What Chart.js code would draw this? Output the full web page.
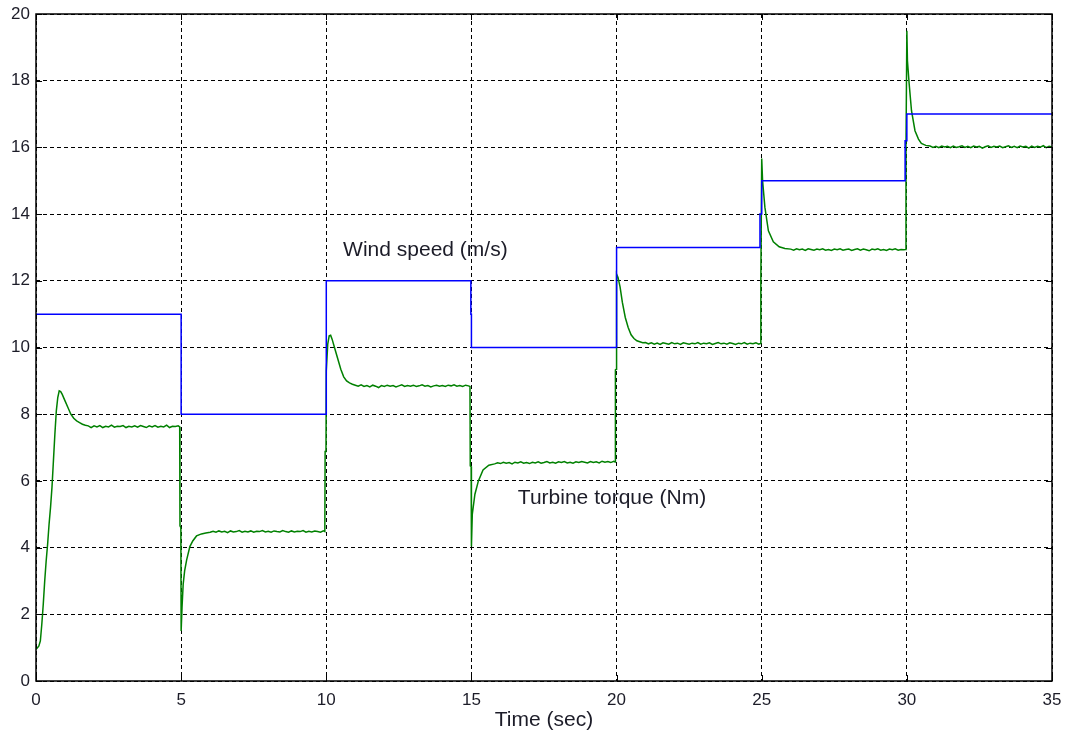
<!DOCTYPE html>
<html>
<head>
<meta charset="utf-8">
<script src="https://cdn.jsdelivr.net/npm/chart.js@4/dist/chart.umd.min.js"></script>
<style>
  body { margin: 0; background: #fff; }
  canvas { display: block; }
</style>
</head>
<body>
<canvas id="myChart" width="1067" height="740"></canvas>
<script>
// wind speed steps (m/s)
const windTime  = [0, 5, 5, 10, 10, 14.98, 14.98, 15, 15, 20, 20, 24.94, 24.94, 25, 25, 29.94, 29.94, 30, 30, 35];
const windSpeed = [11, 11, 8, 8, 12, 12, 11, 11, 10, 10, 13, 13, 14, 14, 15, 15, 16.2, 16.2, 17, 17];

// turbine torque (Nm), [time, value], one array per wind step
const torque0to5 = [[0,0.95],[0.05,1.0],[0.1,1.05],[0.15,1.2],[0.2,1.7],[0.25,2.3],[0.3,3.0],[0.35,3.6],[0.4,4.1],[0.45,4.7],[0.5,5.2],[0.55,5.8],[0.6,6.6],[0.65,7.4],[0.7,8.1],[0.75,8.5],[0.8,8.7],[0.85,8.68],[0.9,8.6],[1.0,8.4],[1.1,8.2],[1.2,8.0],[1.3,7.88],[1.4,7.8],[1.5,7.75],[1.6,7.7],[1.7,7.67],[1.8,7.65],[1.9,7.6],[2.0,7.65],[2.1,7.62],[2.2,7.66],[2.3,7.6],[2.4,7.64],[2.5,7.62],[2.6,7.67],[2.7,7.61],[2.8,7.64],[2.9,7.63],[3.0,7.66],[3.1,7.6],[3.2,7.64],[3.3,7.62],[3.4,7.65],[3.5,7.61],[3.6,7.66],[3.7,7.63],[3.8,7.6],[3.9,7.65],[4.0,7.62],[4.1,7.66],[4.2,7.61],[4.3,7.64],[4.4,7.62],[4.5,7.67],[4.6,7.6],[4.7,7.64],[4.8,7.63],[4.9,7.65],[4.95,7.62],[4.96,4.65],[4.99,4.6]];
const torque5to10 = [[5.0,1.5],[5.03,2.2],[5.07,2.9],[5.12,3.3],[5.19,3.63],[5.3,4.03],[5.4,4.2],[5.53,4.35],[5.7,4.41],[5.85,4.44],[6.0,4.46],[6.1,4.49],[6.2,4.46],[6.3,4.5],[6.4,4.47],[6.5,4.49],[6.6,4.45],[6.7,4.5],[6.8,4.47],[6.9,4.48],[7.0,4.51],[7.1,4.46],[7.2,4.49],[7.3,4.47],[7.4,4.5],[7.5,4.46],[7.6,4.49],[7.7,4.48],[7.8,4.51],[7.9,4.47],[8.0,4.49],[8.1,4.46],[8.2,4.5],[8.3,4.48],[8.4,4.47],[8.5,4.51],[8.6,4.48],[8.7,4.46],[8.8,4.5],[8.9,4.47],[9.0,4.49],[9.1,4.48],[9.2,4.51],[9.3,4.46],[9.4,4.49],[9.5,4.47],[9.6,4.5],[9.7,4.48],[9.8,4.46],[9.9,4.5],[9.95,4.48],[9.96,6.88],[9.99,6.9]];
const torque10to15 = [[10.0,9.3],[10.05,10.1],[10.1,10.35],[10.15,10.37],[10.2,10.25],[10.3,9.95],[10.4,9.65],[10.5,9.35],[10.6,9.12],[10.7,9.0],[10.8,8.94],[10.9,8.9],[11.0,8.87],[11.1,8.84],[11.2,8.88],[11.3,8.83],[11.4,8.86],[11.5,8.82],[11.6,8.87],[11.7,8.84],[11.8,8.8],[11.9,8.86],[12.0,8.83],[12.1,8.87],[12.2,8.84],[12.3,8.86],[12.4,8.82],[12.5,8.85],[12.6,8.88],[12.7,8.83],[12.8,8.86],[12.9,8.84],[13.0,8.87],[13.1,8.83],[13.2,8.85],[13.3,8.88],[13.4,8.84],[13.5,8.86],[13.6,8.82],[13.7,8.85],[13.8,8.87],[13.9,8.84],[14.0,8.86],[14.1,8.83],[14.2,8.87],[14.3,8.85],[14.4,8.88],[14.5,8.84],[14.6,8.86],[14.7,8.83],[14.8,8.87],[14.9,8.85],[14.95,8.83],[14.96,6.45],[14.99,6.43]];
const torque15to20 = [[15.0,4.03],[15.03,5.0],[15.12,5.6],[15.24,6.0],[15.4,6.33],[15.6,6.47],[15.8,6.51],[15.9,6.54],[16.0,6.52],[16.1,6.56],[16.2,6.53],[16.3,6.55],[16.4,6.51],[16.5,6.56],[16.6,6.54],[16.7,6.57],[16.8,6.53],[16.9,6.55],[17.0,6.52],[17.1,6.56],[17.2,6.54],[17.3,6.57],[17.4,6.53],[17.5,6.55],[17.6,6.58],[17.7,6.54],[17.8,6.56],[17.9,6.53],[18.0,6.57],[18.1,6.55],[18.2,6.58],[18.3,6.54],[18.4,6.56],[18.5,6.53],[18.6,6.57],[18.7,6.55],[18.8,6.58],[18.9,6.56],[19.0,6.54],[19.1,6.58],[19.2,6.55],[19.3,6.57],[19.4,6.54],[19.5,6.59],[19.6,6.56],[19.7,6.58],[19.8,6.55],[19.9,6.59],[19.95,6.57],[19.96,9.33],[19.99,9.35]];
const torque20to25 = [[20.0,12.2],[20.05,12.1],[20.12,11.82],[20.2,11.35],[20.3,10.9],[20.4,10.6],[20.5,10.38],[20.6,10.27],[20.7,10.2],[20.8,10.17],[20.9,10.14],[21.0,10.15],[21.1,10.11],[21.2,10.14],[21.3,10.1],[21.4,10.13],[21.5,10.09],[21.6,10.14],[21.7,10.12],[21.8,10.1],[21.9,10.15],[22.0,10.11],[22.1,10.13],[22.2,10.09],[22.3,10.14],[22.4,10.12],[22.5,10.1],[22.6,10.13],[22.7,10.11],[22.8,10.15],[22.9,10.1],[23.0,10.13],[23.1,10.11],[23.2,10.14],[23.3,10.09],[23.4,10.12],[23.5,10.15],[23.6,10.11],[23.7,10.13],[23.8,10.1],[23.9,10.14],[24.0,10.12],[24.1,10.09],[24.2,10.13],[24.3,10.11],[24.4,10.15],[24.5,10.1],[24.6,10.13],[24.7,10.11],[24.8,10.14],[24.9,10.1],[24.95,10.12],[24.97,12.0]];
const torque25to30 = [[25.0,15.67],[25.03,15.0],[25.11,14.2],[25.23,13.5],[25.4,13.17],[25.6,13.02],[25.8,12.97],[26.0,12.95],[26.1,12.92],[26.2,12.96],[26.3,12.93],[26.4,12.95],[26.5,12.91],[26.6,12.96],[26.7,12.94],[26.8,12.92],[26.9,12.95],[27.0,12.93],[27.1,12.96],[27.2,12.92],[27.3,12.94],[27.4,12.91],[27.5,12.95],[27.6,12.93],[27.7,12.96],[27.8,12.92],[27.9,12.94],[28.0,12.95],[28.1,12.91],[28.2,12.94],[28.3,12.96],[28.4,12.92],[28.5,12.95],[28.6,12.93],[28.7,12.9],[28.8,12.95],[28.9,12.93],[29.0,12.96],[29.1,12.92],[29.2,12.94],[29.3,12.91],[29.4,12.95],[29.5,12.93],[29.6,12.96],[29.7,12.92],[29.8,12.94],[29.9,12.93],[29.95,12.94],[29.97,16.0]];
const torque30to35 = [[30.0,19.5],[30.02,18.6],[30.08,17.9],[30.16,17.1],[30.28,16.5],[30.4,16.25],[30.5,16.12],[30.65,16.06],[30.8,16.04],[30.9,16.0],[31.0,16.03],[31.1,15.99],[31.2,16.04],[31.3,16.01],[31.4,16.03],[31.5,15.99],[31.6,16.04],[31.7,16.0],[31.8,16.02],[31.9,16.05],[32.0,16.0],[32.1,16.03],[32.2,15.99],[32.3,16.04],[32.4,16.01],[32.5,16.03],[32.6,15.98],[32.7,16.02],[32.8,16.05],[32.9,16.0],[33.0,16.03],[33.1,16.01],[33.2,16.04],[33.3,15.99],[33.4,16.02],[33.5,16.05],[33.6,16.0],[33.7,16.03],[33.8,15.99],[33.9,16.04],[34.0,16.01],[34.1,16.03],[34.2,15.98],[34.3,16.04],[34.4,16.0],[34.5,16.03],[34.6,16.01],[34.7,16.05],[34.8,15.99],[34.9,16.03],[35.0,16.01]];

const labelFont = '"Liberation Sans", Arial, sans-serif';
const textColor = '#1c1c28';

const windPoints = windTime.map((t, i) => ({ x: t, y: windSpeed[i] }));
const torquePoints = [torque0to5, torque5to10, torque10to15, torque15to20, torque20to25, torque25to30, torque30to35]
  .flat().map(([t, v]) => ({ x: t, y: v }));

// box round the plot, inward ticks on all four sides, and the two curve labels
const framePlugin = {
  id: 'frame',
  afterDraw(chart) {
    const { ctx, chartArea: a, scales: { x, y } } = chart;
    ctx.save();
    ctx.strokeStyle = '#000';
    ctx.lineWidth = 1;
    ctx.beginPath();
    x.ticks.forEach(t => {
      const px = Math.round(x.getPixelForValue(t.value)) + 0.5;
      ctx.moveTo(px, a.bottom); ctx.lineTo(px, a.bottom - 6);
      ctx.moveTo(px, a.top); ctx.lineTo(px, a.top + 6);
    });
    y.ticks.forEach(t => {
      const py = Math.round(y.getPixelForValue(t.value)) + 0.5;
      ctx.moveTo(a.left, py); ctx.lineTo(a.left + 6, py);
      ctx.moveTo(a.right, py); ctx.lineTo(a.right - 6, py);
    });
    ctx.stroke();
    ctx.lineWidth = 1.5;
    ctx.strokeRect(a.left, a.top, a.right - a.left, a.bottom - a.top);

    ctx.font = '21px ' + labelFont;
    ctx.fillStyle = textColor;
    ctx.textBaseline = 'middle';
    ctx.textAlign = 'left';
    ctx.fillText('Wind speed (m/s)', x.getPixelForValue(10.58), y.getPixelForValue(12.92));
    ctx.fillText('Turbine torque (Nm)', x.getPixelForValue(16.6), y.getPixelForValue(5.49));
    ctx.restore();
  }
};

new Chart(document.getElementById('myChart'), {
  type: 'line',
  data: {
    datasets: [
      {
        label: 'Wind speed (m/s)',
        data: windPoints,
        borderColor: '#0000ff',
        borderWidth: 1.5,
        pointRadius: 0,
        tension: 0,
      },
      {
        label: 'Turbine torque (Nm)',
        data: torquePoints,
        borderColor: '#008000',
        borderWidth: 1.5,
        pointRadius: 0,
        tension: 0,
      },
    ],
  },
  options: {
    responsive: false,
    animation: false,
    layout: { padding: { left: 0, top: 14, right: 15, bottom: 0 } },
    plugins: {
      legend: { display: false },
      tooltip: { enabled: false },
    },
    scales: {
      x: {
        type: 'linear',
        min: 0,
        max: 35,
        ticks: { stepSize: 5, padding: 9, color: textColor, font: { family: labelFont, size: 17 } },
        grid: { color: '#000', lineWidth: 1, drawTicks: false },
        border: { display: false, dash: [4, 3] },
        title: { display: true, text: 'Time (sec)', color: textColor, font: { family: labelFont, size: 21 }, padding: { top: 0, bottom: 7 } },
        afterFit(scale) {
          scale.height = 59;
          scale.paddingLeft = 0;
          scale.paddingRight = 0;
        },
      },
      y: {
        min: 0,
        max: 20,
        ticks: { stepSize: 2, padding: 6, color: textColor, font: { family: labelFont, size: 17 } },
        grid: { color: '#000', lineWidth: 1, drawTicks: false },
        border: { display: false, dash: [4, 3] },
        afterFit(scale) {
          scale.width = 36;
          scale.paddingTop = 0;
          scale.paddingBottom = 0;
        },
      },
    },
  },
  plugins: [framePlugin],
});
</script>
</body>
</html>
